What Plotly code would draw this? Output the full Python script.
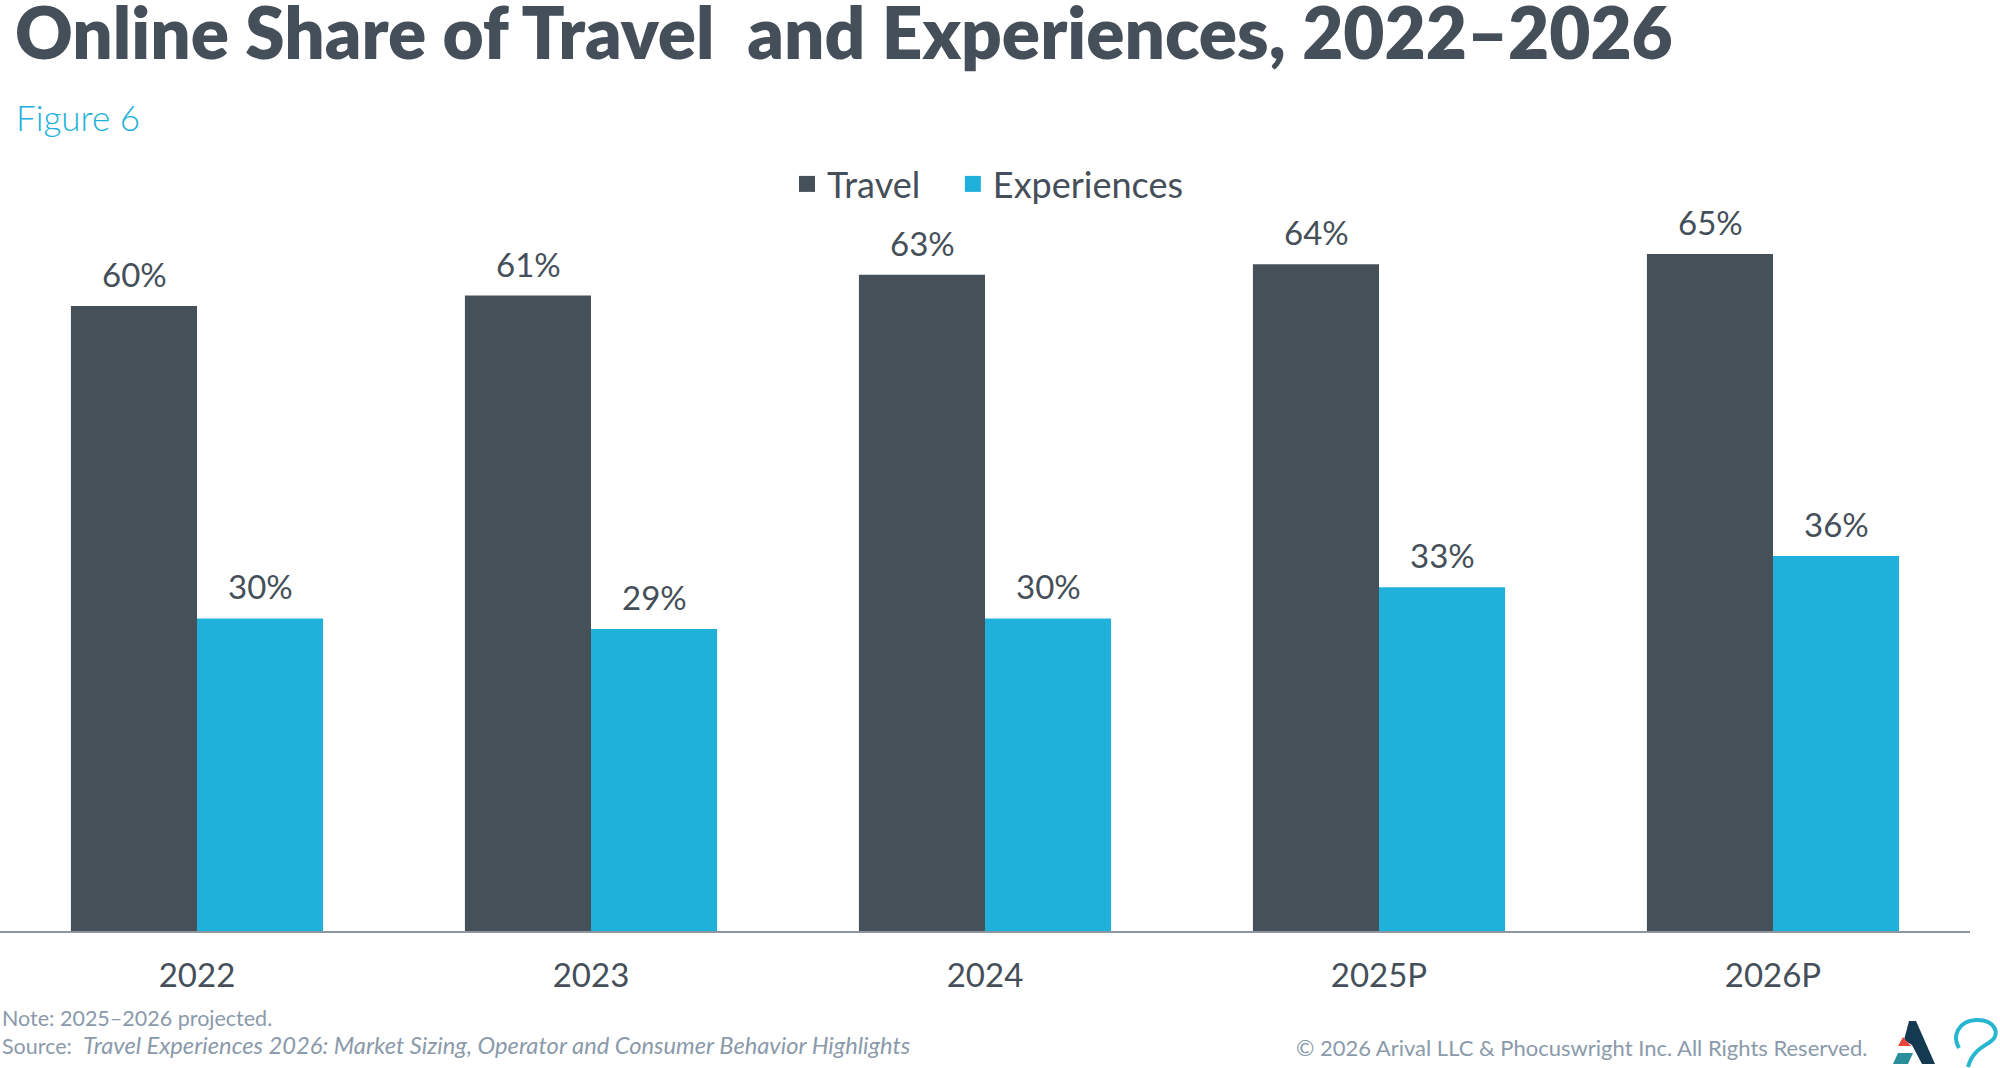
import plotly.graph_objects as go

categories = ["2022", "2023", "2024", "2025P", "2026P"]
travel = [60, 61, 63, 64, 65]
experiences = [30, 29, 30, 33, 36]
series_names = ["Travel", "Experiences"]

DARK = "#465059"
BLUE = "#20b1da"
TEXT = "#454f59"
FOOT = "#8a9aab"
FONT = "Lato"

W, H = 2000, 1068
ML, MR, MT, MB = 0, 30, 200, 137
PW, PH = W - ML - MR, H - MT - MB


def px(x):
    return (x - ML) / PW


def py(y):
    return (H - MB - y) / PH


fig = go.Figure()
fig.add_trace(go.Bar(x=categories, y=travel, name=series_names[0], marker_color=DARK,
                     marker_line_width=0, showlegend=False))
fig.add_trace(go.Bar(x=categories, y=experiences, name=series_names[1], marker_color=BLUE,
                     marker_line_width=0, showlegend=False))
# legend entries (padding after the first name widens the gap between entries)
for nm, col, pad in zip(series_names, [DARK, BLUE], ["\u00a0\u00a0\u00a0", ""]):
    fig.add_trace(go.Scatter(x=[None], y=[None], mode="markers", name=nm + pad,
                             marker=dict(symbol="square", size=18, color=col)))

annotations = []
for i, cat in enumerate(categories):
    for val, shift in ((travel[i], -63), (experiences[i], 63)):
        annotations.append(dict(x=i, y=val, xref="x", yref="y", text=f"{val}%",
                                showarrow=False, xshift=shift, yanchor="bottom", yshift=10,
                                font=dict(family=FONT, size=33, color=TEXT)))

annotations += [
    dict(x=px(13), y=py(31), xref="paper", yref="paper", xanchor="left", yanchor="middle",
         text="Online Share of Travel\u00a0 and Experiences, 2022\u20132026", showarrow=False,
         font=dict(family=FONT, size=71, color=TEXT, weight=800)),
    dict(x=px(14), y=py(117), xref="paper", yref="paper", xanchor="left", yanchor="middle",
         text="Figure 6", showarrow=False,
         font=dict(family=FONT, size=35, color=BLUE, weight=300)),
    dict(x=px(0), y=py(1018), xref="paper", yref="paper", xanchor="left", yanchor="middle",
         text="Note: 2025\u20132026 projected.", showarrow=False,
         font=dict(family=FONT, size=21.5, color=FOOT)),
    dict(x=px(0), y=py(1045), xref="paper", yref="paper", xanchor="left", yanchor="middle",
         text="Source:  <i><span style='font-size:23.7px'>Travel Experiences 2026: Market Sizing, "
              "Operator and Consumer Behavior Highlights</span></i>",
         showarrow=False, font=dict(family=FONT, size=21.5, color=FOOT)),
    dict(x=px(1869), y=py(1047), xref="paper", yref="paper", xanchor="right", yanchor="middle",
         text="\u00a9 2026 Arival LLC &amp; Phocuswright Inc. All Rights Reserved.", showarrow=False,
         font=dict(family=FONT, size=22, color=FOOT)),
]


def path(points, close=True):
    s = "M " + " L ".join(f"{px(x):.5f},{py(y):.5f}" for x, y in points)
    return s + (" Z" if close else "")


def cpath(start, curves):
    s = f"M {px(start[0]):.5f},{py(start[1]):.5f}"
    for c in curves:
        s += " C " + " ".join(f"{px(x):.5f},{py(y):.5f}" for x, y in c)
    return s


shapes = [
    dict(type="path", xref="paper", yref="paper", line_width=0, fillcolor="#143a52",
         path=path([(1909, 1021), (1916, 1021), (1935, 1064), (1922, 1064), (1912, 1045), (1904, 1040)])),
    dict(type="path", xref="paper", yref="paper", line_width=0, fillcolor="#e8453c",
         path=path([(1898, 1046), (1903, 1037), (1911, 1046)])),
    dict(type="path", xref="paper", yref="paper", line_width=0, fillcolor="#2a8e9a",
         path=path([(1893, 1064), (1898, 1053), (1913, 1053), (1908, 1064)])),
    dict(type="path", xref="paper", yref="paper", line=dict(color="#27b6d0", width=4),
         path=cpath((1959, 1048), [
             [(1952, 1036), (1958, 1021), (1976, 1020)],
             [(1994, 1019), (2002, 1034), (1990, 1042)],
             [(1981, 1048), (1972, 1052), (1968, 1067)],
         ])),
]

fig.update_layout(
    width=W, height=H,
    margin=dict(l=ML, r=MR, t=MT, b=MB),
    paper_bgcolor="white", plot_bgcolor="white",
    barmode="group", bargap=0.36, bargroupgap=0,
    font=dict(family=FONT, color=TEXT),
    xaxis=dict(type="category", showgrid=False, showline=True, linecolor="#8e969f", linewidth=2,
               ticks="outside", ticklen=14, tickcolor="rgba(0,0,0,0)",
               tickfont=dict(family=FONT, size=33, color=TEXT), range=[-0.5, 4.5]),
    yaxis=dict(visible=False, range=[0, PH / 10.417], fixedrange=True),
    legend=dict(orientation="h", x=px(988), xanchor="center", y=py(184), yanchor="middle",
                font=dict(family=FONT, size=36, color=TEXT), itemsizing="trace",
                bgcolor="rgba(0,0,0,0)"),
    annotations=annotations,
    shapes=shapes,
)

fig.write_html("out.html")
